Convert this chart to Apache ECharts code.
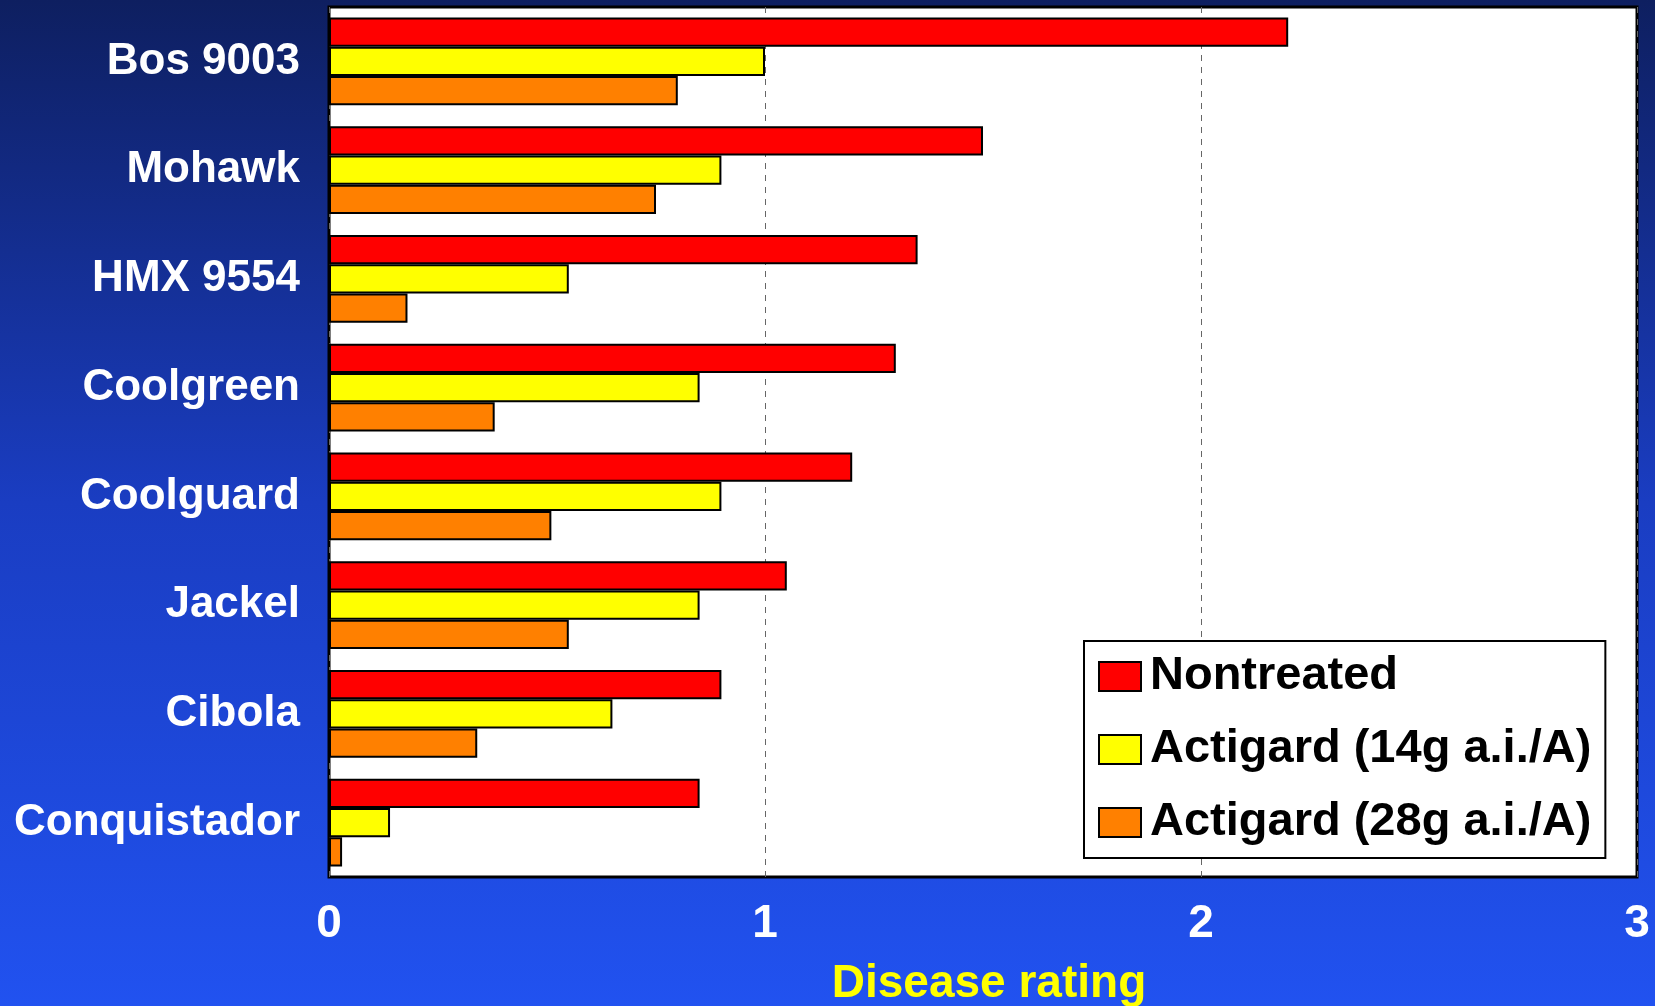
<!DOCTYPE html>
<html><head><meta charset="utf-8">
<script src="https://cdn.jsdelivr.net/npm/echarts@6/dist/echarts.min.js"></script>
<style>html,body{margin:0;padding:0;}#c{width:1655px;height:1006px;}</style>
</head><body><div id="c"></div>
<script>
const categories = ['Bos 9003','Mohawk','HMX 9554','Coolgreen','Coolguard','Jackel','Cibola','Conquistador'];
const nontreated = [2.20, 1.50, 1.35, 1.30, 1.20, 1.05, 0.90, 0.85];
const actigard14 = [1.00, 0.90, 0.55, 0.85, 0.90, 0.85, 0.65, 0.14];
const actigard28 = [0.80, 0.75, 0.18, 0.38, 0.51, 0.55, 0.34, 0.03];
const seriesNames = ['Nontreated','Actigard (14g a.i./A)','Actigard (28g a.i./A)'];
const xTicks = [0,1,2,3];

const font = 'Liberation Sans, Arial, sans-serif';
const chart = echarts.init(document.getElementById('c'));
const mk = (name, data, color) => ({
  name, type:'bar', data, barGap:'0%', barCategoryGap:'19.5%',
  itemStyle:{color, borderColor:'#000', borderWidth:2},
  emphasis:{disabled:true}
});
chart.setOption({
  animation:false,
  backgroundColor:{type:'linear',x:0,y:0,x2:0,y2:1,colorStops:[
    {offset:0,color:'#0e1f60'},{offset:0.5,color:'#1a3dc2'},{offset:1,color:'#2152f0'}]},
  grid:{left:329,right:18,top:7,bottom:129,show:true,backgroundColor:'#fff',borderColor:'#000',borderWidth:3,
    containLabel:false, outerBoundsMode:'none'},
  legend:{
    orient:'vertical', left:1084, top:641,
    backgroundColor:'#fff', borderColor:'#000', borderWidth:2,
    padding:[12,14,12,14], itemGap:26, itemWidth:42, itemHeight:29, icon:'rect',
    textStyle:{color:'#000', fontFamily:font, fontWeight:'bold', fontSize:47, lineHeight:46, padding:[0,0,0,4]},
    data:seriesNames
  },
  xAxis:{
    type:'value', min:0, max:3, interval:1,
    axisLine:{show:false}, axisTick:{show:false},
    splitLine:{show:true, lineStyle:{color:'#666', type:[6,6], width:1}},
    axisLabel:{color:'#fff', fontFamily:font, fontWeight:'bold', fontSize:46, margin:24,
      formatter:v=>xTicks.includes(v)?String(v):''},
    name:'Disease rating', nameLocation:'middle', nameGap:84,
    nameTextStyle:{color:'#ffff00', fontFamily:font, fontWeight:'bold', fontSize:46, padding:[0,0,0,12]}
  },
  yAxis:{
    type:'category', data:categories, inverse:true,
    axisLine:{show:false}, axisTick:{show:false}, splitLine:{show:false},
    axisLabel:{color:'#fff', fontFamily:font, fontWeight:'bold', fontSize:44, margin:29}
  },
  series:[
    mk(seriesNames[0], nontreated, '#ff0000'),
    mk(seriesNames[1], actigard14, '#ffff00'),
    mk(seriesNames[2], actigard28, '#ff8000')
  ]
});
</script></body></html>
